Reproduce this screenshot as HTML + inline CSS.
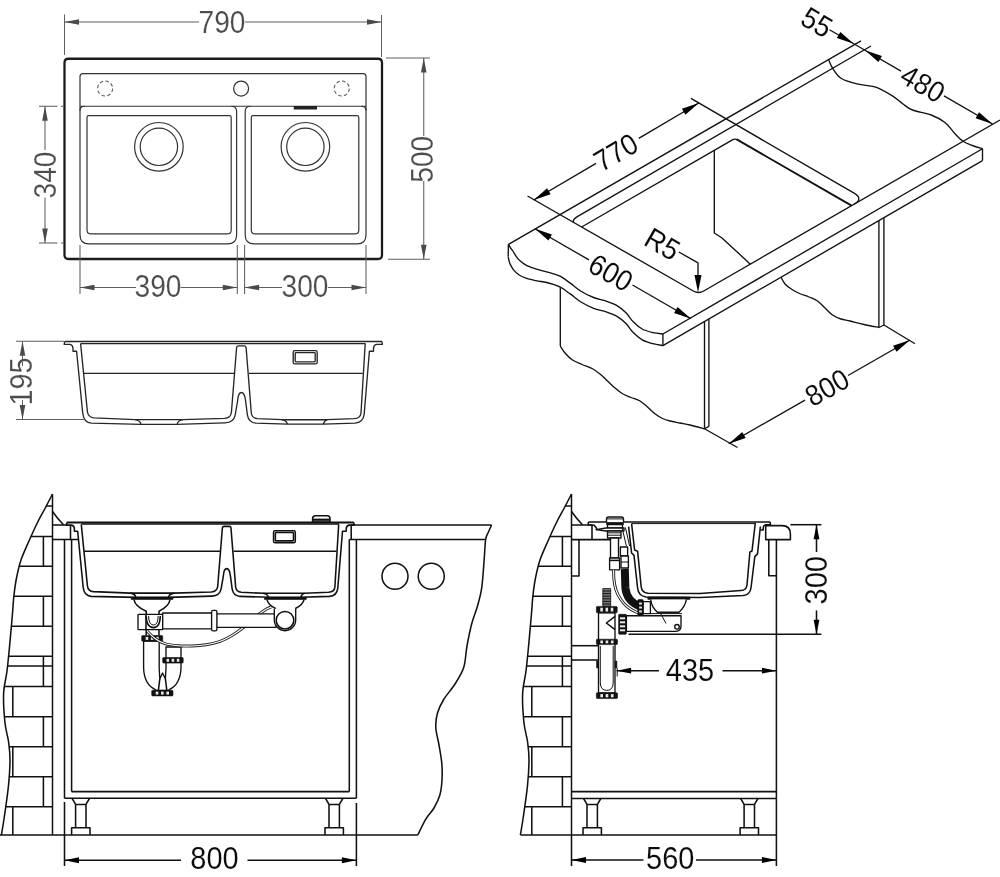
<!DOCTYPE html>
<html lang="en">
<head>
<meta charset="utf-8">
<title>Sink technical drawing</title>
<style>
html,body{margin:0;padding:0;background:#fff;overflow:hidden;width:1000px;height:877px}
svg{display:block;will-change:transform;opacity:0.9999}
line,path,rect,circle,polyline{fill:none;stroke-linecap:butt;stroke-linejoin:round}
.S{stroke:#1c1c1c;stroke-width:2.3}
.S2{stroke:#262626;stroke-width:1.5}
.s{stroke:#262626;stroke-width:1.35}
.p{stroke:#333;stroke-width:1.2}
.g{stroke:#5e5e5e;stroke-width:1.05}
.gd{stroke:#5a5a5a;stroke-width:1.05;stroke-dasharray:3.6 2.3}
.fk{fill:#222;stroke:none}
.ga{fill:#4a4a4a;stroke:none}
.k{stroke:#111;stroke-width:1.35}
.bf .k{stroke-width:1.55}
.bf .kt{stroke-width:1}
.k15{stroke:#111;stroke-width:1.7}
.bf .k2{stroke-width:2.2}
.bf .kw{stroke-width:1.35}
.kt{stroke:#111;stroke-width:0.8}
.k2{stroke:#111;stroke-width:1.9}
.kg{stroke:#444;stroke-width:0.9}
.ka{fill:#000;stroke:none}
.kf{fill:#111;stroke:#111;stroke-width:0.6}
.kw{fill:#fff;stroke:#111;stroke-width:1.1}
.kgf{fill:#777;stroke:#111;stroke-width:0.8}
.kw2{stroke:#111;stroke-width:1.5}
.wf{fill:#e8e8e8;stroke:none}
.hose1{stroke:#222;stroke-width:3}
.hose2{stroke:#fff;stroke-width:1.1}
.hoseb{stroke:#111;stroke-width:8;stroke-linecap:butt}
.ns *{vector-effect:non-scaling-stroke}
text{font-family:"Liberation Sans",sans-serif;stroke:none}
.gt{fill:#4c4c4c;stroke:#fff;stroke-width:0.15}
.kx{fill:#0a0a0a;stroke:#fff;stroke-width:0.1}
</style>
</head>
<body>
<svg width="1000" height="877" viewBox="0 0 1000 877">
<!-- plan view -->
<path d="M68.5,58.75 L378,58.75 Q382,58.75 382,62.75 L382,255 Q382,259 378,259 L68.5,259 Q64.5,259 64.5,255 L64.5,62.75 Q64.5,58.75 68.5,58.75 Z" class="S"/>
<path d="M80,235 L80,76.6 Q80,73.6 83,73.6 L363,73.6 Q366,73.6 366,76.6 L366,235" class="p"/>
<line x1="80" y1="106.25" x2="366" y2="106.25" class="p"/>
<path d="M84.5,106.25 Q80,106.25 80,110.75 M231.4,106.25 Q236.6,106.25 236.6,111.5 L236.6,235 Q236.6,243.9 227.6,243.9 L89,243.9 Q80,243.9 80,235" class="p"/>
<path d="M361.5,106.25 Q366,106.25 366,110.75 M250.4,106.25 Q245.2,106.25 245.2,111.5 L245.2,235 Q245.2,243.9 254.2,243.9 L357,243.9 Q366,243.9 366,235" class="p"/>
<path d="M88.8,115.6 L229.4,115.6 Q231.2,115.6 231.2,117.4 L231.2,229.9 Q231.2,233.9 227.2,233.9 L91,233.9 Q87,233.9 87,229.9 L87,117.4 Q87,115.6 88.8,115.6 Z" class="p"/>
<path d="M253.1,115.6 L357,115.6 Q358.8,115.6 358.8,117.4 L358.8,229.9 Q358.8,233.9 354.8,233.9 L255.3,233.9 Q251.3,233.9 251.3,229.9 L251.3,117.4 Q251.3,115.6 253.1,115.6 Z" class="p"/>
<circle cx="158.9" cy="146.8" r="24.3" class="p"/>
<circle cx="158.9" cy="146.8" r="18.7" class="p"/>
<circle cx="305.4" cy="146.8" r="24.3" class="p"/>
<circle cx="305.4" cy="146.8" r="18.7" class="p"/>
<circle cx="241.1" cy="88.6" r="7.5" class="p"/>
<circle cx="105.1" cy="88.5" r="7.5" class="gd"/>
<circle cx="341.75" cy="88.5" r="7.5" class="gd"/>
<rect x="293.75" y="106" width="23.25" height="3.5" rx="0" class="fk"/>
<line x1="64.5" y1="14.5" x2="64.5" y2="55" class="g"/>
<line x1="381.5" y1="15" x2="381.5" y2="57" class="g"/>
<line x1="64.5" y1="22" x2="199" y2="22" class="g"/>
<line x1="245" y1="22" x2="381.5" y2="22" class="g"/>
<polygon points="64.5,22 79,19.2 79,24.8" class="ga"/>
<polygon points="381.5,22 367,24.8 367,19.2" class="ga"/>
<text transform="translate(222 22) rotate(0) scale(0.92 1)" x="0" y="10.95" text-anchor="middle" font-size="30.6" class="gt">790</text>
<line x1="386" y1="58" x2="430" y2="58" class="g"/>
<line x1="388" y1="259.25" x2="430" y2="259.25" class="g"/>
<line x1="423.75" y1="58" x2="423.75" y2="136" class="g"/>
<line x1="423.75" y1="181" x2="423.75" y2="259.25" class="g"/>
<polygon points="423.75,58 426.55,72.5 420.95,72.5" class="ga"/>
<polygon points="423.75,259.25 420.95,244.75 426.55,244.75" class="ga"/>
<text transform="translate(421.7 159.3) rotate(-90) scale(0.92 1)" x="0" y="10.95" text-anchor="middle" font-size="30.6" class="gt">500</text>
<line x1="39" y1="106.25" x2="57.5" y2="106.25" class="g"/>
<line x1="61" y1="106.25" x2="64" y2="106.25" class="g"/>
<line x1="39" y1="243" x2="57.5" y2="243" class="g"/>
<line x1="61" y1="243" x2="64" y2="243" class="g"/>
<line x1="45" y1="106.25" x2="45" y2="150" class="g"/>
<line x1="45" y1="197.5" x2="45" y2="243" class="g"/>
<polygon points="45,106.25 47.8,120.75 42.2,120.75" class="ga"/>
<polygon points="45,243 42.2,228.5 47.8,228.5" class="ga"/>
<text transform="translate(45.4 175) rotate(-90) scale(0.92 1)" x="0" y="10.95" text-anchor="middle" font-size="30.6" class="gt">340</text>
<line x1="80" y1="245" x2="80" y2="294" class="g"/>
<line x1="237.3" y1="245" x2="237.3" y2="294" class="g"/>
<line x1="244.6" y1="245" x2="244.6" y2="294" class="g"/>
<line x1="366" y1="245" x2="366" y2="294" class="g"/>
<line x1="80" y1="287.5" x2="136" y2="287.5" class="g"/>
<line x1="180.5" y1="287.5" x2="237.3" y2="287.5" class="g"/>
<polygon points="80,287.5 94.5,284.7 94.5,290.3" class="ga"/>
<polygon points="237.3,287.5 222.8,290.3 222.8,284.7" class="ga"/>
<text transform="translate(158 285.6) rotate(0) scale(0.92 1)" x="0" y="10.95" text-anchor="middle" font-size="30.6" class="gt">390</text>
<line x1="244.6" y1="287.5" x2="282" y2="287.5" class="g"/>
<line x1="328" y1="287.5" x2="366" y2="287.5" class="g"/>
<polygon points="244.6,287.5 259.1,284.7 259.1,290.3" class="ga"/>
<polygon points="366,287.5 351.5,290.3 351.5,284.7" class="ga"/>
<text transform="translate(305 285.6) rotate(0) scale(0.92 1)" x="0" y="10.95" text-anchor="middle" font-size="30.6" class="gt">300</text>
<!-- long section -->
<line x1="64.6" y1="341.5" x2="382" y2="341.5" class="S2"/>
<line x1="80.6" y1="343.6" x2="365.6" y2="343.6" class="s"/>
<path d="M64.6,341.5 L64.2,344.4 L70,344.4 Q72.8,345 73,348.5 L73,351.2 L76.6,351.2 L82.7,413 Q83.6,422.6 91.5,423.2 L141,424.3 L177,424.3 L225,422.9 Q233.8,422.6 235.2,415 L237.6,401 Q238.2,392.5 241.4,392.5 Q244.6,392.5 245.6,401 L247.4,415 Q248.6,422.6 256,423.2 L287.4,424.1 L323.4,424.1 L355,423.2 Q363.2,422.6 364.2,414 L369.4,351.2 L373.5,351.2 L373.5,348.5 Q373.7,345 376.5,344.4 L382.3,344.4 L382,341.5" class="s"/>
<path d="M80.6,343.6 L87.4,411.5 Q88,417.4 94,417.9 L135,419.6 L183,419.6 L224.5,418.4 Q230.6,418 231.4,412.5 L236.6,347.5 Q236.8,345.8 238.5,345.8 L244.2,345.8 Q245.9,345.8 246.1,347.5 L251.3,413 Q252,418.2 257.5,418.7 L281.8,419.7 L327.4,419.7 L354,418.7 Q360.4,418.3 361,413 L365.2,343.6" class="s"/>
<path d="M135,419.6 Q140,420.2 141,424.3 M183,419.6 Q178,420.2 177,424.3 M281.8,419.7 Q286.4,420.3 287.4,424.1 M327.4,419.7 Q324.4,420.3 323.4,424.1" class="s"/>
<line x1="83.7" y1="373.3" x2="234.2" y2="373.3" class="s"/>
<line x1="249" y1="373.3" x2="362.8" y2="373.3" class="s"/>
<rect x="293.2" y="350.6" width="24" height="13.2" rx="1.6" class="s"/>
<rect x="295.2" y="352.6" width="20" height="9.2" rx="0.8" class="s"/>
<line x1="16" y1="341.25" x2="64" y2="341.25" class="g"/>
<line x1="16" y1="419.5" x2="84" y2="419.5" class="g"/>
<line x1="22.5" y1="341.25" x2="22.5" y2="366" class="g"/>
<line x1="22.5" y1="400" x2="22.5" y2="419.5" class="g"/>
<polygon points="22.5,341.25 25.3,355.75 19.7,355.75" class="ga"/>
<polygon points="22.5,419.5 19.7,405 25.3,405" class="ga"/>
<text transform="translate(20.6 381.5) rotate(-90) scale(0.94 1)" x="0" y="10.95" text-anchor="middle" font-size="30.6" class="gt">195</text>
<!-- isometric cut-out view -->
<line x1="508.5" y1="244.3" x2="861" y2="40.89" class="k"/>
<path d="M871,46 L576.9,216.87 Q573.3,218.96 573.3,221.36 L573.3,222.24" class="k"/>
<path d="M527.5,196 L693.29,290.97 Q698.48,293.97 703.68,290.97 L1000,120" class="k"/>
<path d="M691,98.42 L854.08,193.2 Q863.6,198.7 854.08,204.2" class="k"/>
<path d="M581.66,227.03 L732.4,139.9 Q735,138.4 737.6,139.9" class="k"/>
<path d="M736.73,139.4 L851.56,205.65" class="k2"/>
<line x1="982.5" y1="148.75" x2="662.9" y2="334" class="k"/>
<line x1="982.5" y1="160.6" x2="662.9" y2="345.6" class="k"/>
<line x1="982.5" y1="148.75" x2="982.5" y2="160.6" class="k"/>
<line x1="662.9" y1="334" x2="662.9" y2="345.6" class="k"/>
<line x1="508.4" y1="244.3" x2="508.2" y2="256.6" class="k"/>
<path d="M828.75,60 C829.38,61.33 830.46,64.97 832.5,68 C834.54,71.03 836.75,75.5 841,78.2 C845.25,80.9 852.33,82.75 858,84.2 C863.67,85.65 869.33,85 875,86.9 C880.67,88.8 887.33,92.75 892,95.6 C896.67,98.45 899.58,101.6 903,104 C906.42,106.4 907.79,108.17 912.5,110 C917.21,111.83 925.83,112.92 931.25,115 C936.67,117.08 941.04,119.38 945,122.5 C948.96,125.62 952,130.62 955,133.75 C958,136.88 960.08,139.29 963,141.25 C965.92,143.21 969.25,144.25 972.5,145.5 C975.75,146.75 980.83,148.21 982.5,148.75" class="k"/>
<path d="M508.5,244.3 C508.8,244.85 509.58,246.48 510.3,247.6 C511.02,248.72 511.8,249.5 512.8,251 C513.8,252.5 515.1,254.97 516.3,256.6 C517.5,258.23 518.47,259.43 520,260.8 C521.53,262.17 523.5,263.67 525.5,264.8 C527.5,265.93 529.58,266.7 532,267.6 C534.42,268.5 537.23,269.4 540,270.2 C542.77,271 545.37,271.45 548.6,272.4 C551.83,273.35 555.8,274.12 559.4,275.9 C563,277.68 566.6,280.55 570.2,283.1 C573.8,285.65 577.1,288.8 581,291.2 C584.9,293.6 589.4,295.85 593.6,297.5 C597.8,299.15 602.3,299.75 606.2,301.1 C610.1,302.45 613.7,303.65 617,305.6 C620.3,307.55 623.3,310.1 626,312.8 C628.7,315.5 630.5,319.1 633.2,321.8 C635.9,324.5 638.9,327.2 642.2,329 C645.5,330.8 649.55,331.77 653,332.6 C656.45,333.43 661.25,333.77 662.9,334" class="k"/>
<path d="M508.2,256.6 C508.33,257.3 508.63,259.47 509,260.8 C509.37,262.13 509.57,263 510.4,264.6 C511.23,266.2 512.53,268.67 514,270.4 C515.47,272.13 517.2,273.7 519.2,275 C521.2,276.3 523.2,277.27 526,278.2 C528.8,279.13 532.23,279.8 536,280.6 C539.77,281.4 544.7,281.98 548.6,283 C552.5,284.02 555.8,284.88 559.4,286.7 C563,288.52 566.6,291.35 570.2,293.9 C573.8,296.45 577.1,299.6 581,302 C584.9,304.4 589.4,306.65 593.6,308.3 C597.8,309.95 602.3,310.55 606.2,311.9 C610.1,313.25 613.7,314.45 617,316.4 C620.3,318.35 623.3,320.9 626,323.6 C628.7,326.3 630.5,329.9 633.2,332.6 C635.9,335.3 638.9,337.95 642.2,339.8 C645.5,341.65 649.55,342.73 653,343.7 C656.45,344.67 661.25,345.28 662.9,345.6" class="k"/>
<line x1="560.3" y1="286.9" x2="560.3" y2="346" class="k"/>
<path d="M560.3,346 C561.08,347.17 562.97,350.67 565,353 C567.03,355.33 569.67,358.08 572.5,360 C575.33,361.92 578.67,363.04 582,364.5 C585.33,365.96 589.5,367.17 592.5,368.75 C595.5,370.33 597.5,371.96 600,374 C602.5,376.04 605,378.67 607.5,381 C610,383.33 612.5,385.88 615,388 C617.5,390.12 619.83,392.17 622.5,393.75 C625.17,395.33 628.08,396.29 631,397.5 C633.92,398.71 637.25,399.42 640,401 C642.75,402.58 645,404.88 647.5,407 C650,409.12 652.5,411.83 655,413.75 C657.5,415.67 660,417.29 662.5,418.5 C665,419.71 667.08,420.25 670,421 C672.92,421.75 676.67,422.33 680,423 C683.33,423.67 685.92,424.04 690,425 C694.08,425.96 702.08,428.12 704.5,428.75" class="k"/>
<line x1="704.5" y1="321.45" x2="704.5" y2="428.75" class="k"/>
<line x1="708.9" y1="318.9" x2="708.9" y2="426.4" class="k"/>
<line x1="704.5" y1="428.75" x2="708.9" y2="426.4" class="k"/>
<line x1="878.9" y1="220.54" x2="878.9" y2="327.5" class="k"/>
<line x1="883.9" y1="217.65" x2="883.9" y2="325" class="k"/>
<line x1="878.9" y1="327.5" x2="883.9" y2="325" class="k"/>
<path d="M781,277.19 C781.67,278.32 783.17,281.95 785,284 C786.83,286.05 789.5,287.88 792,289.5 C794.5,291.12 797.17,292.5 800,293.75 C802.83,295 806.08,295.79 809,297 C811.92,298.21 814.83,299.17 817.5,301 C820.17,302.83 822.5,305.67 825,308 C827.5,310.33 829.83,313.17 832.5,315 C835.17,316.83 838.08,318 841,319 C843.92,320 846.17,320.08 850,321 C853.83,321.92 859.18,323.42 864,324.5 C868.82,325.58 876.42,327 878.9,327.5" class="k"/>
<path d="M714.3,150.36 L714.3,233 L722,238 L750.6,264.4" class="k"/>
<line x1="533.75" y1="200" x2="596" y2="163.4" class="k"/>
<line x1="638.75" y1="138.3" x2="698.75" y2="103" class="k"/>
<polygon points="533.75,200 547.07,188.13 550.62,194.16" class="ka"/>
<polygon points="698.75,103 685.43,114.87 681.88,108.84" class="ka"/>
<text transform="translate(615.6 152) rotate(-30.4) scale(0.92 1)" x="0" y="10.56" text-anchor="middle" font-size="29.5" class="kx">770</text>
<line x1="829.5" y1="29.72" x2="865" y2="50.26" class="k"/>
<polygon points="853.75,43.75 836.84,38.03 840.34,31.97" class="ka"/>
<polygon points="865,50.26 881.91,55.98 878.41,62.04" class="ka"/>
<line x1="865" y1="50.26" x2="901" y2="71.08" class="k"/>
<line x1="944" y1="95.95" x2="992.5" y2="124" class="k"/>
<polygon points="992.5,124 975.59,118.28 979.09,112.22" class="ka"/>
<text transform="translate(817 21.99) rotate(30) scale(0.92 1)" x="0" y="10.56" text-anchor="middle" font-size="29.5" class="kx">55</text>
<text transform="translate(923 83.5) rotate(30) scale(0.92 1)" x="0" y="10.56" text-anchor="middle" font-size="29.5" class="kx">480</text>
<line x1="535" y1="228.75" x2="589" y2="259.91" class="k"/>
<line x1="632.5" y1="285.01" x2="691" y2="318.76" class="k"/>
<polygon points="535,228.75 551.91,234.47 548.41,240.53" class="ka"/>
<polygon points="691,318.76 674.09,313.04 677.59,306.98" class="ka"/>
<text transform="translate(611 272.4) rotate(30) scale(0.92 1)" x="0" y="10.56" text-anchor="middle" font-size="29.5" class="kx">600</text>
<text transform="translate(662.5 243.8) rotate(30) scale(0.92 1)" x="0" y="10.56" text-anchor="middle" font-size="29.5" class="kx">R5</text>
<path d="M678.8,252 L698,262.8 L698,280" class="k"/>
<polygon points="698,292.6 694.5,275.1 701.5,275.1" class="ka"/>
<line x1="728.75" y1="443.75" x2="805" y2="400.1" class="k"/>
<line x1="848" y1="375.49" x2="910" y2="340" class="k"/>
<polygon points="728.75,443.75 742.2,432.02 745.68,438.09" class="ka"/>
<polygon points="910,340 896.55,351.74 893.07,345.66" class="ka"/>
<text transform="translate(827 387.21) rotate(-29.8) scale(0.92 1)" x="0" y="10.56" text-anchor="middle" font-size="29.5" class="kx">800</text>
<line x1="704.5" y1="428.75" x2="737.5" y2="447.5" class="k"/>
<line x1="883.9" y1="325" x2="915" y2="343.75" class="k"/>
<g class="bf">
<!-- front installation view -->
<g transform="translate(0 0)">
<clipPath id="wallclip1"><path d="M52.5,494 C51.25,496.42 47.5,503.75 45,508.5 C42.5,513.25 40.17,517.08 37.5,522.5 C34.83,527.92 31.75,534.75 29,541 C26.25,547.25 23.08,553.83 21,560 C18.92,566.17 17.67,572.17 16.5,578 C15.33,583.83 14.65,589.33 14,595 C13.35,600.67 13.03,606.83 12.6,612 C12.17,617.17 11.93,620 11.4,626 C10.87,632 10.13,640.5 9.4,648 C8.67,655.5 7.97,663.33 7,671 C6.03,678.67 3.93,685.33 3.6,694 C3.27,702.67 4.17,715 5,723 C5.83,731 7.77,735.83 8.6,742 C9.43,748.17 10.02,752.72 10,760 C9.98,767.28 9.45,776.2 8.5,785.7 C7.55,795.2 5.48,808.78 4.3,817 C3.12,825.22 1.88,832 1.4,835 L52.5,835 L52.5,494 Z"/></clipPath>
<path d="M52.5,494 C51.25,496.42 47.5,503.75 45,508.5 C42.5,513.25 40.17,517.08 37.5,522.5 C34.83,527.92 31.75,534.75 29,541 C26.25,547.25 23.08,553.83 21,560 C18.92,566.17 17.67,572.17 16.5,578 C15.33,583.83 14.65,589.33 14,595 C13.35,600.67 13.03,606.83 12.6,612 C12.17,617.17 11.93,620 11.4,626 C10.87,632 10.13,640.5 9.4,648 C8.67,655.5 7.97,663.33 7,671 C6.03,678.67 3.93,685.33 3.6,694 C3.27,702.67 4.17,715 5,723 C5.83,731 7.77,735.83 8.6,742 C9.43,748.17 10.02,752.72 10,760 C9.98,767.28 9.45,776.2 8.5,785.7 C7.55,795.2 5.48,808.78 4.3,817 C3.12,825.22 1.88,832 1.4,835" class="k"/>
<line x1="52.5" y1="494" x2="52.5" y2="835" class="kw2"/>
<path d="M52.5,511.5 Q57,518 63.5,524.8" class="k"/>
<g clip-path="url(#wallclip1)">
<line x1="0" y1="506" x2="60" y2="506" class="k"/>
<line x1="0" y1="536.4" x2="60" y2="536.4" class="k"/>
<line x1="0" y1="566.2" x2="60" y2="566.2" class="k"/>
<line x1="0" y1="596.2" x2="60" y2="596.2" class="k"/>
<line x1="0" y1="626.2" x2="60" y2="626.2" class="k"/>
<line x1="0" y1="656.2" x2="60" y2="656.2" class="k"/>
<line x1="0" y1="666" x2="60" y2="666" class="k"/>
<line x1="0" y1="686.4" x2="60" y2="686.4" class="k"/>
<line x1="0" y1="716.8" x2="60" y2="716.8" class="k"/>
<line x1="0" y1="746.8" x2="60" y2="746.8" class="k"/>
<line x1="0" y1="776.7" x2="60" y2="776.7" class="k"/>
<line x1="0" y1="806.7" x2="60" y2="806.7" class="k"/>
<line x1="43.4" y1="536.4" x2="43.4" y2="566.2" class="k"/>
<line x1="43.4" y1="596.2" x2="43.4" y2="626.2" class="k"/>
<line x1="43.4" y1="656.2" x2="43.4" y2="686.4" class="k"/>
<line x1="43.4" y1="716.8" x2="43.4" y2="746.8" class="k"/>
<line x1="43.4" y1="776.7" x2="43.4" y2="806.7" class="k"/>
<line x1="12.8" y1="686.4" x2="12.8" y2="716.8" class="k"/>
<line x1="12.8" y1="746.8" x2="12.8" y2="776.7" class="k"/>
<line x1="12.8" y1="806.7" x2="12.8" y2="835" class="k"/>
</g>
</g>
<line x1="0" y1="835" x2="417.8" y2="835" class="k"/>
<path d="M52.5,525 L66.5,525" class="k"/>
<path d="M70.5,525.3 L70.5,539.5" class="k"/>
<line x1="52.5" y1="539.5" x2="78.6" y2="539.5" class="k"/>
<line x1="64.5" y1="539.5" x2="64.5" y2="798.25" class="k"/>
<line x1="71.6" y1="539.5" x2="71.6" y2="791.6" class="k"/>
<line x1="349.3" y1="539.5" x2="349.3" y2="791.6" class="k"/>
<line x1="356.4" y1="539.5" x2="356.4" y2="798.25" class="k"/>
<line x1="71.6" y1="791.6" x2="349.3" y2="791.6" class="k"/>
<line x1="64.5" y1="798.25" x2="356.4" y2="798.25" class="k"/>
<path d="M72,798.25 L75.6,804.45 L86,804.45 L89.6,798.25" class="k"/>
<line x1="75.6" y1="804.45" x2="75.6" y2="827.7" class="k"/>
<line x1="86" y1="804.45" x2="86" y2="827.7" class="k"/>
<path d="M71.6,835 L71.6,827.7 L90,827.7 L90,835" class="k"/>
<path d="M325.4,798.25 L329,804.45 L339.4,804.45 L343,798.25" class="k"/>
<line x1="329" y1="804.45" x2="329" y2="827.7" class="k"/>
<line x1="339.4" y1="804.45" x2="339.4" y2="827.7" class="k"/>
<path d="M325,835 L325,827.7 L343.4,827.7 L343.4,835" class="k"/>
<line x1="351.2" y1="525" x2="491.6" y2="525" class="k"/>
<line x1="351.2" y1="525" x2="351.2" y2="539.5" class="k"/>
<line x1="349.3" y1="539.5" x2="485.8" y2="539.5" class="k"/>
<path d="M491.6,525 C491,526.33 489,530.5 488,533 C487,535.5 486.27,535.17 485.6,540 C484.93,544.83 484.65,554.03 484,562 C483.35,569.97 482.78,580.47 481.7,587.8 C480.62,595.13 479.17,600.02 477.5,606 C475.83,611.98 473.45,617.03 471.7,623.7 C469.95,630.37 468.33,638.68 467,646 C465.67,653.32 465.7,661.27 463.7,667.6 C461.7,673.93 458.33,678.68 455,684 C451.67,689.32 446.62,694.67 443.7,699.5 C440.78,704.33 438.82,708.33 437.5,713 C436.18,717.67 435.55,722.17 435.8,727.5 C436.05,732.83 438,739.02 439,745 C440,750.98 441.3,757.57 441.8,763.4 C442.3,769.23 442.33,774.68 442,780 C441.67,785.32 441.13,790.63 439.8,795.3 C438.47,799.97 436.33,804.02 434,808 C431.67,811.98 428.5,814.7 425.8,819.2 C423.1,823.7 419.13,832.37 417.8,835" class="k"/>
<circle cx="395" cy="576.25" r="13" class="k"/>
<circle cx="431.25" cy="576.25" r="13" class="k"/>
<g class="ns" transform="translate(66.8 522.5) scale(0.9045) translate(-64.6 -341.5)">
<line x1="64.6" y1="341.5" x2="382" y2="341.5" class="k2"/>
<line x1="80.6" y1="343.1" x2="365.6" y2="343.1" class="k"/>
<path d="M64.6,341.5 L64.2,344.4 L70,344.4 Q72.8,345 73,348.5 L73,351.2 L76.6,351.2 L82.7,413 Q83.6,422.6 91.5,423.2 L141,424.3 L177,424.3 L225,422.9 Q233.8,422.6 235.2,415 L237.6,401 Q238.2,392.5 241.4,392.5 Q244.6,392.5 245.6,401 L247.4,415 Q248.6,422.6 256,423.2 L287.4,424.1 L323.4,424.1 L355,423.2 Q363.2,422.6 364.2,414 L369.4,351.2 L373.5,351.2 L373.5,348.5 Q373.7,345 376.5,344.4 L382.3,344.4 L382,341.5" class="k"/>
<path d="M80.6,343.6 L87.4,411.5 Q88,417.4 94,417.9 L135,419.6 L183,419.6 L224.5,418.4 Q230.6,418 231.4,412.5 L236.6,347.5 Q236.8,345.8 238.5,345.8 L244.2,345.8 Q245.9,345.8 246.1,347.5 L251.3,413 Q252,418.2 257.5,418.7 L281.8,419.7 L327.4,419.7 L354,418.7 Q360.4,418.3 361,413 L365.2,343.6" class="k"/>
<path d="M135,419.6 Q140,420.2 141,424.3 M183,419.6 Q178,420.2 177,424.3 M281.8,419.7 Q286.4,420.3 287.4,424.1 M327.4,419.7 Q324.4,420.3 323.4,424.1" class="k"/>
<line x1="83.7" y1="373.3" x2="234.2" y2="373.3" class="k"/>
<line x1="249" y1="373.3" x2="362.8" y2="373.3" class="k"/>
<rect x="293.2" y="350.6" width="24" height="13.2" rx="1.6" class="k"/>
<rect x="295.2" y="352.6" width="20" height="9.2" rx="0.8" class="k"/>
</g>
<path d="M312.6,522 L312.6,518.6 Q312.6,515.8 315.6,515.8 L327,515.8 Q330,515.8 330,518.6 L330,522" class="k"/>
<line x1="312.6" y1="519.4" x2="330" y2="519.4" class="k"/>
<line x1="312.6" y1="521" x2="330" y2="521" class="k"/>
<path d="M143.6,641 L143.6,668 Q144.2,684.5 155.4,689.6 L155.4,690.4 L169.2,690.4 L169.2,689.6 Q180.4,684.5 181,668 L181,647 L166,647 L166,668 L165.4,679 L162.6,673 L159.8,679 L159.2,668 L159.2,641 Z" class="kw"/>
<line x1="159.8" y1="679" x2="158.4" y2="690" class="k"/>
<line x1="165.4" y1="679" x2="166.8" y2="690" class="k"/>
<rect x="141.7" y="635.6" width="21" height="5.6" rx="0.8" class="kf"/>
<rect x="145.64" y="636.9" width="2.62" height="3" rx="0" class="wf"/>
<rect x="150.89" y="636.9" width="2.62" height="3" rx="0" class="wf"/>
<rect x="156.14" y="636.9" width="2.62" height="3" rx="0" class="wf"/>
<rect x="162.7" y="657.5" width="20.5" height="5.6" rx="0.8" class="kf"/>
<rect x="166.54" y="658.8" width="2.56" height="3" rx="0" class="wf"/>
<rect x="171.67" y="658.8" width="2.56" height="3" rx="0" class="wf"/>
<rect x="176.79" y="658.8" width="2.56" height="3" rx="0" class="wf"/>
<rect x="151.7" y="690.3" width="21.3" height="5.6" rx="0.8" class="kf"/>
<rect x="155.69" y="691.6" width="2.66" height="3" rx="0" class="wf"/>
<rect x="161.02" y="691.6" width="2.66" height="3" rx="0" class="wf"/>
<rect x="166.34" y="691.6" width="2.66" height="3" rx="0" class="wf"/>
<path d="M147,631 C148.33,632.25 152.05,636.4 155,638.5 C157.95,640.6 160.87,642.38 164.7,643.6 C168.53,644.82 173.45,645.4 178,645.8 C182.55,646.2 187.33,646.17 192,646 C196.67,645.83 201.43,645.53 206,644.8 C210.57,644.07 215.07,643.15 219.4,641.6 C223.73,640.05 227.9,637.93 232,635.5 C236.1,633.07 240,630.17 244,627 C248,623.83 252.5,619.33 256,616.5 C259.5,613.67 262.5,611.58 265,610 C267.5,608.42 270,607.5 271,607" class="hose1"/>
<path d="M147,631 C148.33,632.25 152.05,636.4 155,638.5 C157.95,640.6 160.87,642.38 164.7,643.6 C168.53,644.82 173.45,645.4 178,645.8 C182.55,646.2 187.33,646.17 192,646 C196.67,645.83 201.43,645.53 206,644.8 C210.57,644.07 215.07,643.15 219.4,641.6 C223.73,640.05 227.9,637.93 232,635.5 C236.1,633.07 240,630.17 244,627 C248,623.83 252.5,619.33 256,616.5 C259.5,613.67 262.5,611.58 265,610 C267.5,608.42 270,607.5 271,607" class="hose2"/>
<rect x="131.2" y="597.4" width="41.7" height="2.1" rx="0" class="kf"/>
<path d="M134,599.7 Q135,606.5 146.2,611.2 L146.2,614.4 M170,599.7 Q169,606.5 159,611.2 L159,614.4" class="k"/>
<rect x="138" y="614.4" width="24.7" height="15.2" rx="0.6" class="kw"/>
<line x1="146" y1="614.4" x2="146" y2="629.6" class="k"/>
<path d="M146.2,616 Q146.5,627.6 153.5,627.6 Q160,627.6 160.3,616" class="k"/>
<path d="M148.6,616 Q148.8,625 153.5,625 Q158,625 158.2,616" class="kt"/>
<line x1="146.2" y1="629.6" x2="146.2" y2="635.6" class="k"/>
<line x1="159" y1="629.6" x2="159" y2="635.6" class="k"/>
<rect x="162.7" y="613" width="49.7" height="15.8" rx="0" class="kw"/>
<rect x="216.4" y="613.8" width="59.6" height="13.6" rx="0" class="kw"/>
<rect x="211.6" y="610.3" width="5.3" height="20.5" rx="1.6" class="kw"/>
<rect x="264.5" y="597.4" width="41.8" height="2.1" rx="0" class="kf"/>
<path d="M267,599.7 Q268,605 276,608.8 M304,599.7 Q303,605 295,608.8" class="k"/>
<path d="M274.3,608.8 L274.3,620 A10.7,10.7 0 0 0 295.7,620 L295.7,608.8" class="kw"/>
<circle cx="285" cy="620.2" r="8.8" class="k"/>
<line x1="64.5" y1="802" x2="64.5" y2="866" class="k"/>
<line x1="356.4" y1="803" x2="356.4" y2="866" class="k"/>
<line x1="64.5" y1="860.25" x2="181" y2="860.25" class="k"/>
<line x1="247.5" y1="860.25" x2="356.4" y2="860.25" class="k"/>
<polygon points="64.5,860.25 79,857.35 79,863.15" class="ka"/>
<polygon points="356.4,860.25 341.9,863.15 341.9,857.35" class="ka"/>
<text transform="translate(214.5 857.9) rotate(0) scale(0.94 1)" x="0" y="11.03" text-anchor="middle" font-size="30.8" class="kx">800</text>
<!-- side installation view -->
<g transform="translate(519 0)">
<clipPath id="wallclip2"><path d="M52.5,494 C51.25,496.42 47.5,503.75 45,508.5 C42.5,513.25 40.17,517.08 37.5,522.5 C34.83,527.92 31.75,534.75 29,541 C26.25,547.25 23.08,553.83 21,560 C18.92,566.17 17.67,572.17 16.5,578 C15.33,583.83 14.65,589.33 14,595 C13.35,600.67 13.03,606.83 12.6,612 C12.17,617.17 11.93,620 11.4,626 C10.87,632 10.13,640.5 9.4,648 C8.67,655.5 7.97,663.33 7,671 C6.03,678.67 3.93,685.33 3.6,694 C3.27,702.67 4.17,715 5,723 C5.83,731 7.77,735.83 8.6,742 C9.43,748.17 10.02,752.72 10,760 C9.98,767.28 9.45,776.2 8.5,785.7 C7.55,795.2 5.48,808.78 4.3,817 C3.12,825.22 1.88,832 1.4,835 L52.5,835 L52.5,494 Z"/></clipPath>
<path d="M52.5,494 C51.25,496.42 47.5,503.75 45,508.5 C42.5,513.25 40.17,517.08 37.5,522.5 C34.83,527.92 31.75,534.75 29,541 C26.25,547.25 23.08,553.83 21,560 C18.92,566.17 17.67,572.17 16.5,578 C15.33,583.83 14.65,589.33 14,595 C13.35,600.67 13.03,606.83 12.6,612 C12.17,617.17 11.93,620 11.4,626 C10.87,632 10.13,640.5 9.4,648 C8.67,655.5 7.97,663.33 7,671 C6.03,678.67 3.93,685.33 3.6,694 C3.27,702.67 4.17,715 5,723 C5.83,731 7.77,735.83 8.6,742 C9.43,748.17 10.02,752.72 10,760 C9.98,767.28 9.45,776.2 8.5,785.7 C7.55,795.2 5.48,808.78 4.3,817 C3.12,825.22 1.88,832 1.4,835" class="k"/>
<line x1="52.5" y1="494" x2="52.5" y2="835" class="kw2"/>
<path d="M52.5,511.5 Q57,518 63.5,524.8" class="k"/>
<g clip-path="url(#wallclip2)">
<line x1="0" y1="506" x2="60" y2="506" class="k"/>
<line x1="0" y1="536.4" x2="60" y2="536.4" class="k"/>
<line x1="0" y1="566.2" x2="60" y2="566.2" class="k"/>
<line x1="0" y1="596.2" x2="60" y2="596.2" class="k"/>
<line x1="0" y1="626.2" x2="60" y2="626.2" class="k"/>
<line x1="0" y1="656.2" x2="60" y2="656.2" class="k"/>
<line x1="0" y1="666" x2="60" y2="666" class="k"/>
<line x1="0" y1="686.4" x2="60" y2="686.4" class="k"/>
<line x1="0" y1="716.8" x2="60" y2="716.8" class="k"/>
<line x1="0" y1="746.8" x2="60" y2="746.8" class="k"/>
<line x1="0" y1="776.7" x2="60" y2="776.7" class="k"/>
<line x1="0" y1="806.7" x2="60" y2="806.7" class="k"/>
<line x1="43.4" y1="536.4" x2="43.4" y2="566.2" class="k"/>
<line x1="43.4" y1="596.2" x2="43.4" y2="626.2" class="k"/>
<line x1="43.4" y1="656.2" x2="43.4" y2="686.4" class="k"/>
<line x1="43.4" y1="716.8" x2="43.4" y2="746.8" class="k"/>
<line x1="43.4" y1="776.7" x2="43.4" y2="806.7" class="k"/>
<line x1="12.8" y1="686.4" x2="12.8" y2="716.8" class="k"/>
<line x1="12.8" y1="746.8" x2="12.8" y2="776.7" class="k"/>
<line x1="12.8" y1="806.7" x2="12.8" y2="835" class="k"/>
</g>
</g>
<line x1="520.5" y1="835" x2="776.4" y2="835" class="k"/>
<path d="M571.5,525 L592,525 L592,539.6" class="k"/>
<line x1="571.5" y1="539.6" x2="610.5" y2="539.6" class="k"/>
<path d="M571.5,576 L579,576 L579,539.6" class="k"/>
<line x1="571.5" y1="645.7" x2="598.5" y2="645.7" class="k"/>
<line x1="571.5" y1="660" x2="598.5" y2="660" class="k"/>
<line x1="571.5" y1="791.6" x2="776.4" y2="791.6" class="k"/>
<line x1="571.5" y1="798.4" x2="776.4" y2="798.4" class="k"/>
<line x1="776.4" y1="575.8" x2="776.4" y2="798.4" class="k"/>
<path d="M583.4,798.25 L587,804.45 L597.4,804.45 L601,798.25" class="k"/>
<line x1="587" y1="804.45" x2="587" y2="827.7" class="k"/>
<line x1="597.4" y1="804.45" x2="597.4" y2="827.7" class="k"/>
<path d="M583,835 L583,827.7 L601.4,827.7 L601.4,835" class="k"/>
<path d="M740.5,798.25 L744.1,804.45 L754.5,804.45 L758.1,798.25" class="k"/>
<line x1="744.1" y1="804.45" x2="744.1" y2="827.7" class="k"/>
<line x1="754.5" y1="804.45" x2="754.5" y2="827.7" class="k"/>
<path d="M740.1,835 L740.1,827.7 L758.5,827.7 L758.5,835" class="k"/>
<path d="M765.7,525.6 L782,525.6 Q790.4,525.6 790.4,534 L790.4,539.6 L765.7,539.6 Z" class="k"/>
<path d="M768.8,539.6 L768.8,575.8 L776.4,575.8 L776.4,539.6" class="k"/>
<line x1="588.4" y1="522" x2="770.2" y2="522" class="k15"/>
<path d="M770.2,522 L770.4,524.8 L765.6,524.8 Q763.4,525.4 763.2,528 L763.2,530 L760.4,530" class="k"/>
<path d="M588.4,522 L588.2,524.7 L594,525.2 Q596,527 597.5,530.3" class="k"/>
<path d="M628.6,526.6 L631.6,553 L634,555.4 L637.6,588 Q638.4,596 646,596.9 L700,597.6 L743,595.6 Q750,595 751,588 L754.8,556.6 L757.5,553.9 L760.4,526.5" class="k"/>
<path d="M631.6,523.6 L634.6,550 L637.6,551.2 L641.2,587 Q641.8,592.6 648,593.2 L700,593.4 L741,590.6 Q746.4,590.2 747,585 L749.9,552 L752,551 L755.3,523" class="k"/>
<line x1="631.6" y1="523.6" x2="755.3" y2="523.6" class="kt"/>
<path d="M606.5,522 L606.5,519 Q606.5,517 608.7,517 L621.3,517 Q623.5,517 623.5,519 L623.5,522" class="kw"/>
<line x1="606.5" y1="518.9" x2="623.5" y2="518.9" class="kt"/>
<rect x="606.5" y="522.8" width="17" height="1.8" rx="0" class="kf"/>
<rect x="607.5" y="524.6" width="15" height="3.4" rx="0" class="kw"/>
<path d="M596,529.7 L606,528 L624,528 L624,531 L606,531 Z" class="kw"/>
<rect x="607.5" y="531" width="13.5" height="7" rx="0" class="kw"/>
<line x1="607.5" y1="532.8" x2="621" y2="532.8" class="kt"/>
<line x1="607.5" y1="535.2" x2="621" y2="535.2" class="kt"/>
<rect x="610.5" y="538" width="8" height="20" rx="0" class="kw"/>
<rect x="609.6" y="558" width="10" height="11.8" rx="0" class="kw"/>
<line x1="609.6" y1="560.4" x2="619.6" y2="560.4" class="k"/>
<path d="M622,527.4 L626.4,546 M625.4,527.4 L629.6,546" class="kt"/>
<rect x="620.4" y="547" width="7.2" height="9" rx="0" class="kw"/>
<rect x="621" y="556" width="7.4" height="12" rx="0" class="kw"/>
<line x1="621" y1="562" x2="628.4" y2="562" class="kt"/>
<path d="M613.6,569.8 C613.67,571.5 613.6,576.63 614,580 C614.4,583.37 614.92,586.83 616,590 C617.08,593.17 618.67,596.25 620.5,599 C622.33,601.75 624.42,604.33 627,606.5 C629.58,608.67 633.33,610.75 636,612 C638.67,613.25 641.83,613.67 643,614" class="hose1"/>
<path d="M613.6,569.8 C613.67,571.5 613.6,576.63 614,580 C614.4,583.37 614.92,586.83 616,590 C617.08,593.17 618.67,596.25 620.5,599 C622.33,601.75 624.42,604.33 627,606.5 C629.58,608.67 633.33,610.75 636,612 C638.67,613.25 641.83,613.67 643,614" class="hose2"/>
<path d="M624.8,569 L625.4,588 Q626.6,601 640,606.6" class="hoseb"/>
<rect x="637.8" y="599.6" width="5.4" height="15.8" rx="0.8" class="kf"/>
<rect x="639.1" y="602.56" width="2.8" height="1.98" rx="0" class="wf"/>
<rect x="639.1" y="606.51" width="2.8" height="1.98" rx="0" class="wf"/>
<rect x="639.1" y="610.46" width="2.8" height="1.98" rx="0" class="wf"/>
<rect x="643.2" y="601.6" width="7.2" height="12" rx="0" class="kw"/>
<rect x="647.8" y="597" width="42.2" height="2.4" rx="0" class="kf"/>
<path d="M650.7,599.4 Q651.4,607 657.4,612.2 L679,612.2 Q685,607 686.4,599.4" class="kw"/>
<line x1="650.4" y1="613.6" x2="682" y2="613.6" class="kt"/>
<path d="M626.4,615.7 L681,615.7 L681,626 Q681,631.4 675,631.4 L626.4,631.4 Z" class="kw"/>
<line x1="660" y1="612.4" x2="666" y2="623.5" class="kt"/>
<circle cx="677" cy="626.8" r="2.3" class="kw"/>
<rect x="618.6" y="614.3" width="7.8" height="20" rx="0.8" class="kf"/>
<rect x="619.9" y="617.3" width="5.2" height="2" rx="0" class="wf"/>
<rect x="619.9" y="621.3" width="5.2" height="2" rx="0" class="wf"/>
<rect x="619.9" y="625.3" width="5.2" height="2" rx="0" class="wf"/>
<rect x="619.9" y="629.3" width="5.2" height="2" rx="0" class="wf"/>
<rect x="602.8" y="588.5" width="7.9" height="17.9" rx="0" class="kgf"/>
<line x1="602.8" y1="591" x2="610.7" y2="591" class="kt"/>
<line x1="602.8" y1="593.6" x2="610.7" y2="593.6" class="kt"/>
<line x1="602.8" y1="596.2" x2="610.7" y2="596.2" class="kt"/>
<line x1="602.8" y1="598.8" x2="610.7" y2="598.8" class="kt"/>
<line x1="602.8" y1="601.4" x2="610.7" y2="601.4" class="kt"/>
<line x1="602.8" y1="604" x2="610.7" y2="604" class="kt"/>
<rect x="598.5" y="612.8" width="16.5" height="80" rx="0" class="kw"/>
<path d="M615,616.4 L606.4,623 L615,629.6" class="k"/>
<path d="M600.3,646 L600.3,683 Q600.6,690.4 606.75,690.4 Q612.9,690.4 613.2,683 L613.2,646" class="kt"/>
<rect x="596.6" y="661" width="1.9" height="7" rx="0" class="kf"/>
<rect x="615" y="661" width="1.9" height="7" rx="0" class="kf"/>
<rect x="596.4" y="606.4" width="20.8" height="6.4" rx="0.8" class="kf"/>
<rect x="600.3" y="607.7" width="2.6" height="3.8" rx="0" class="wf"/>
<rect x="605.5" y="607.7" width="2.6" height="3.8" rx="0" class="wf"/>
<rect x="610.7" y="607.7" width="2.6" height="3.8" rx="0" class="wf"/>
<rect x="596.4" y="639.2" width="21.1" height="5.4" rx="0.8" class="kf"/>
<rect x="600.36" y="640.5" width="2.64" height="2.8" rx="0" class="wf"/>
<rect x="605.63" y="640.5" width="2.64" height="2.8" rx="0" class="wf"/>
<rect x="610.91" y="640.5" width="2.64" height="2.8" rx="0" class="wf"/>
<rect x="596.4" y="692.8" width="21.1" height="5.8" rx="0.8" class="kf"/>
<rect x="600.36" y="694.1" width="2.64" height="3.2" rx="0" class="wf"/>
<rect x="605.63" y="694.1" width="2.64" height="3.2" rx="0" class="wf"/>
<rect x="610.91" y="694.1" width="2.64" height="3.2" rx="0" class="wf"/>
<line x1="790.4" y1="524.7" x2="821.4" y2="524.7" class="k"/>
<line x1="628.5" y1="634.2" x2="821.4" y2="634.2" class="k"/>
<line x1="816.5" y1="524.7" x2="816.5" y2="552" class="k"/>
<line x1="816.5" y1="610.4" x2="816.5" y2="634.2" class="k"/>
<polygon points="816.5,524.7 819.4,539.2 813.6,539.2" class="ka"/>
<polygon points="816.5,634.2 813.6,619.7 819.4,619.7" class="ka"/>
<text transform="translate(816 580.3) rotate(-90) scale(0.94 1)" x="0" y="11.03" text-anchor="middle" font-size="30.8" class="kx">300</text>
<line x1="616.6" y1="670.7" x2="659" y2="670.7" class="k"/>
<line x1="722.5" y1="670.7" x2="776.4" y2="670.7" class="k"/>
<polygon points="616.6,670.7 631.1,667.8 631.1,673.6" class="ka"/>
<line x1="617.2" y1="668" x2="617.2" y2="676.5" class="kt"/>
<polygon points="776.4,670.7 761.9,673.6 761.9,667.8" class="ka"/>
<text transform="translate(690 670) rotate(0) scale(0.94 1)" x="0" y="11.03" text-anchor="middle" font-size="30.8" class="kx">435</text>
<line x1="571.5" y1="835" x2="571.5" y2="866" class="k"/>
<line x1="776.4" y1="798.4" x2="776.4" y2="866" class="k"/>
<line x1="571.5" y1="860" x2="643.5" y2="860" class="k"/>
<line x1="696" y1="860" x2="776.4" y2="860" class="k"/>
<polygon points="571.5,860 586,857.1 586,862.9" class="ka"/>
<polygon points="776.4,860 761.9,862.9 761.9,857.1" class="ka"/>
<text transform="translate(670.2 857.9) rotate(0) scale(0.94 1)" x="0" y="11.03" text-anchor="middle" font-size="30.8" class="kx">560</text>
</g>
</svg>
</body>
</html>
